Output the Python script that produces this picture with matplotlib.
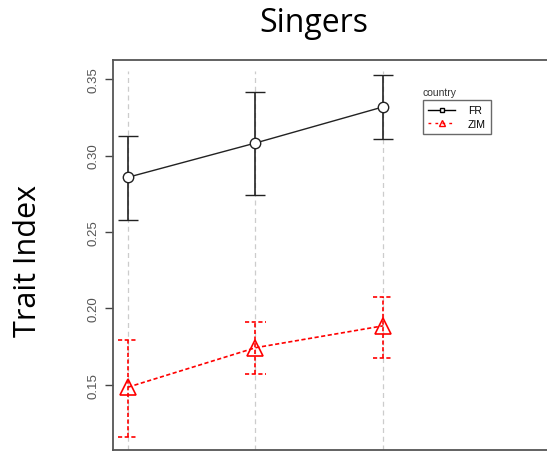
import numpy as np
import matplotlib.pyplot as plt
from matplotlib.lines import Line2D

# x positions of the three conditions (bottom labels are cut off in the reference)
x = [1, 2, 3]

fr_mean = [0.2858, 0.3082, 0.3318]
fr_low = [0.2579, 0.2741, 0.3105]
fr_high = [0.3128, 0.3417, 0.3526]

zim_mean = [0.1485, 0.1743, 0.1886]
zim_low = [0.1162, 0.1568, 0.1678]
zim_high = [0.1793, 0.1908, 0.2077]

yticks = [0.15, 0.20, 0.25, 0.30, 0.35]

fig = plt.figure(figsize=(5.47, 4.52), dpi=100)
# the frame runs past the right edge of the picture, as in the reference
ax = fig.add_axes([113 / 547, 1 / 452, 1.06 - 113 / 547, 390 / 452])
ax.set_xlim(0.882, 4.545)
ax.set_ylim(0.1074, 0.3625)

# vertical dashed grid lines
ax.vlines(x, 0.1074, 0.355, colors="#cccccc", linestyles=(0, (4, 3)), linewidth=0.9, zorder=1)

# FR: solid black
fr_err = [np.subtract(fr_mean, fr_low), np.subtract(fr_high, fr_mean)]
ax.errorbar(x, fr_mean, yerr=fr_err, color="#222222", ecolor="#222222", lw=1.0,
            elinewidth=1.2, capsize=7, capthick=1.2, marker="o", ms=7.5,
            mfc="white", mec="#222222", mew=1.0, zorder=3)

# ZIM: dashed red, caps drawn as dashed lines too
zim_err = [np.subtract(zim_mean, zim_low), np.subtract(zim_high, zim_mean)]
eb = ax.errorbar(x, zim_mean, yerr=zim_err, color="red", ecolor="red", lw=1.2,
                 ls=(0, (2.5, 1.5)), elinewidth=1.2, capsize=0, marker="^", ms=11,
                 mfc="none", mec="red", mew=1.2, zorder=3)
eb[2][0].set_linestyle((0, (2.5, 1.5)))
cap_w = 0.08
ax.hlines(zim_low, np.subtract(x, cap_w), np.add(x, cap_w), colors="red",
          linestyles=(0, (2.5, 1.5)), linewidth=1.2, zorder=3)
ax.hlines(zim_high, np.subtract(x, cap_w), np.add(x, cap_w), colors="red",
          linestyles=(0, (2.5, 1.5)), linewidth=1.2, zorder=3)

ax.set_yticks(yticks)
ax.set_yticklabels(["%.2f" % v for v in yticks], rotation=90, va="center",
                   fontsize=9.5, color="#555555", family="Liberation Sans")
ax.tick_params(axis="y", length=6, width=1.0, color="#444444", pad=4)
ax.set_xticks([])
for s in ax.spines.values():
    s.set_color("#555555")
    s.set_linewidth(1.3)

# legend with its title sitting above the box
handles = [
    Line2D([], [], color="black", lw=1.0, marker="s", ms=3.5, mfc="white", mec="black"),
    Line2D([], [], color="red", lw=1.0, ls=(0, (2, 3)), marker="^", ms=4.5, mfc="none", mec="red"),
]
leg = ax.legend(handles, ["FR", "ZIM"], loc="upper left", bbox_to_anchor=(423 / 547, 1 - 101 / 452),
                bbox_transform=fig.transFigure, borderaxespad=0, fancybox=False,
                edgecolor="#444444", handlelength=2.6, handletextpad=1.2,
                labelspacing=0.35, borderpad=0.5, prop={"family": "Liberation Sans", "size": 7.5})
leg.get_frame().set_linewidth(1.0)
fig.text(422 / 547, 1 - 93 / 452, "country", fontsize=7.5, family="Liberation Sans",
         color="#333333", ha="left", va="center")

fig.text(314 / 547, 1 - 24 / 452, "Singers", fontsize=23, family="Open Sans", ha="center", va="center")
fig.text(28 / 547, 1 - 261 / 452, "Trait Index", fontsize=22, family="Open Sans", rotation=90,
         ha="center", va="center")

fig.savefig("out.png", dpi=100)
